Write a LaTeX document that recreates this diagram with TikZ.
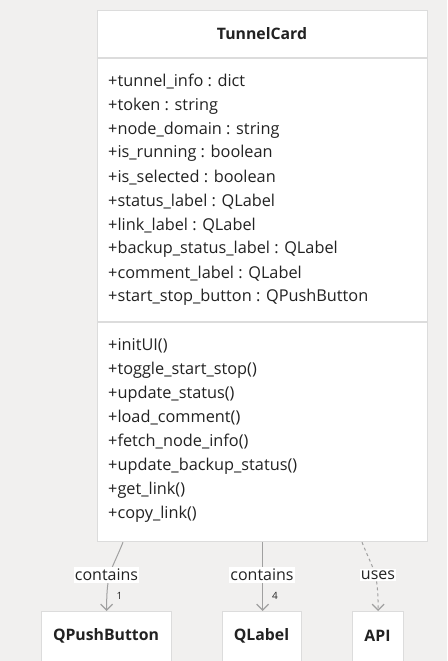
\documentclass[tikz,border=0pt]{standalone}
\usepackage{fontspec}
\setmainfont{Open Sans}
\usetikzlibrary{calc,arrows.meta}
\definecolor{canvas}{HTML}{F1F0EF}
\definecolor{edgegray}{HTML}{A0A0A0}
\definecolor{boxline}{HTML}{DCDCDC}
\definecolor{ink}{HTML}{222222}
\tikzset{
  classbox/.style={draw=boxline, line width=1.2pt, fill=white, inner sep=0pt},
  member/.style={anchor=west, inner sep=0pt, font=\fontsize{16.3}{18}\selectfont, text=ink},
  title/.style={font=\bfseries\fontsize{15.8}{18}\selectfont, text=ink},
  rel/.style={draw=edgegray, line width=1pt, -{Straight Barb[length=6pt,width=12pt,line width=1.2pt]}},
  rellabel/.style={fill=white, inner xsep=1pt, inner ysep=2pt, font=\fontsize{16}{18}\selectfont, text=ink},
  mult/.style={font=\fontsize{10}{11}\selectfont, text=ink}
}
\begin{document}
\begin{tikzpicture}[x=1pt,y=-1pt]
\useasboundingbox[fill=canvas] (0,0) rectangle (447,661);

% TunnelCard class
\node[classbox, minimum width=330pt, minimum height=531pt, anchor=north west] (card) at (97,10) {};
\draw[boxline, line width=1.2pt] (97,58) -- (427,58);
\draw[boxline, line width=1.2pt] (97,322) -- (427,322);
\node[title] (cardtitle) at (262,34) {TunnelCard};

\foreach \t [count=\i from 0] in {
  +tunnel\_info : dict,
  +token : string,
  +node\_domain : string,
  +is\_running : boolean,
  +is\_selected : boolean,
  +status\_label : QLabel,
  +link\_label : QLabel,
  +backup\_status\_label : QLabel,
  +comment\_label : QLabel,
  +start\_stop\_button : QPushButton}
  \node[member] (attr\i) at (108,{82+23.9*\i}) {\t};

\foreach \t [count=\i from 0] in {
  +initUI(),
  +toggle\_start\_stop(),
  +update\_status(),
  +load\_comment(),
  +fetch\_node\_info(),
  +update\_backup\_status(),
  +get\_link(),
  +copy\_link()}
  \node[member] (meth\i) at (108,{346+24*\i}) {\t};

% related classes
\node[classbox, minimum width=130pt, minimum height=60pt, anchor=north west] (qpb) at (41,611) {};
\node[title] at (106,636) {QPushButton};
\node[classbox, minimum width=79pt, minimum height=60pt, anchor=north west] (qlabel) at (222,611) {};
\node[title] at (261.5,636) {QLabel};
\node[classbox, minimum width=51pt, minimum height=60pt, anchor=north west] (api) at (352,611) {};
\node[title] at (377.5,636) {API};

% relations
\coordinate (s1) at ($(card.south west)+(26,0)$);
\coordinate (s2) at (card.south);
\coordinate (s3) at ($(card.south west)+(265,0)$);
\draw[rel] (s1) .. controls ($(s1)+(-12,30)$) and ($(qpb.north)+(0,-40)$) .. (qpb.north);
\draw[rel] (s2) -- (s2 |- qlabel.north);
\draw[rel, dashed, dash pattern=on 3pt off 3pt] (s3) .. controls ($(s3)+(12,30)$) and ($(api.north)+(0,-40)$) .. (api.north);

\node[rellabel] (l1) at (106.5,575) {contains};
\node[rellabel] (l2) at (262,575) {contains};
\node[rellabel] (l3) at (378,575) {uses};
\node[mult] (m1) at (119.5,596) {1};
\node[mult] (m2) at (275,596) {4};
\end{tikzpicture}
\end{document}
